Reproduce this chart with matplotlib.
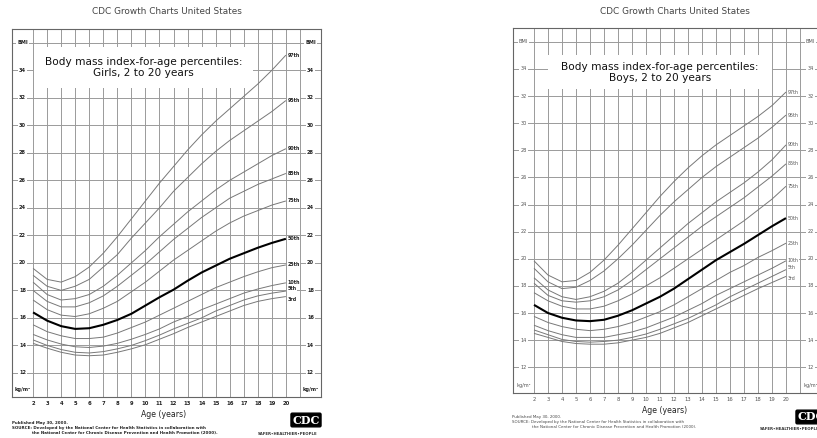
import matplotlib
matplotlib.use('Agg')
import matplotlib.pyplot as plt
from matplotlib.patches import Rectangle

# --- Data ---
AGES = list(range(2, 21))
PCT_NAMES = ['97th', '95th', '90th', '85th', '75th', '50th', '25th', '10th', '5th', '3rd']

GIRLS_P97 = [19.6, 18.8, 18.6, 19.0, 19.7, 20.7, 21.9, 23.2, 24.5, 25.8, 27.0, 28.2, 29.3, 30.3, 31.2, 32.1, 33.0, 34.0, 35.1]
GIRLS_P95 = [19.1, 18.3, 18.0, 18.3, 18.8, 19.7, 20.6, 21.8, 22.9, 24.0, 25.2, 26.2, 27.2, 28.1, 28.9, 29.6, 30.3, 31.0, 31.8]
GIRLS_P90 = [18.6, 17.7, 17.3, 17.4, 17.7, 18.3, 19.1, 20.0, 20.9, 21.9, 22.8, 23.7, 24.5, 25.3, 26.0, 26.6, 27.2, 27.8, 28.3]
GIRLS_P85 = [18.0, 17.2, 16.8, 16.8, 17.1, 17.6, 18.3, 19.1, 19.9, 20.8, 21.7, 22.5, 23.3, 24.0, 24.7, 25.2, 25.7, 26.1, 26.5]
GIRLS_P75 = [17.3, 16.6, 16.2, 16.1, 16.3, 16.7, 17.2, 17.9, 18.6, 19.4, 20.2, 20.9, 21.6, 22.3, 22.9, 23.4, 23.8, 24.2, 24.5]
GIRLS_P50 = [16.4, 15.8, 15.4, 15.2, 15.25, 15.5, 15.85, 16.3, 16.9, 17.5, 18.05, 18.7, 19.3, 19.8, 20.3, 20.7, 21.1, 21.45, 21.75]
GIRLS_P25 = [15.5, 15.0, 14.7, 14.5, 14.5, 14.6, 14.9, 15.3, 15.7, 16.2, 16.7, 17.2, 17.7, 18.2, 18.6, 19.0, 19.35, 19.65, 19.85]
GIRLS_P10 = [14.8, 14.4, 14.1, 13.9, 13.85, 13.95, 14.15, 14.45, 14.8, 15.2, 15.7, 16.1, 16.6, 17.0, 17.4, 17.8, 18.1, 18.35, 18.55]
GIRLS_P5 = [14.4, 14.0, 13.7, 13.5, 13.45, 13.55, 13.75, 14.0, 14.35, 14.75, 15.2, 15.6, 16.0, 16.5, 16.9, 17.3, 17.6, 17.8, 17.95]
GIRLS_P3 = [14.15, 13.8, 13.5, 13.3, 13.25, 13.3, 13.5, 13.75, 14.05, 14.45, 14.85, 15.3, 15.7, 16.1, 16.5, 16.9, 17.2, 17.4, 17.55]

BOYS_P97 = [19.85, 18.8, 18.3, 18.4, 19.0, 19.9, 21.0, 22.2, 23.4, 24.6, 25.7, 26.7, 27.6, 28.4, 29.1, 29.8, 30.5, 31.3, 32.3]
BOYS_P95 = [19.3, 18.3, 17.8, 17.9, 18.4, 19.1, 20.0, 21.0, 22.1, 23.2, 24.2, 25.1, 26.0, 26.8, 27.5, 28.2, 28.9, 29.7, 30.6]
BOYS_P90 = [18.6, 17.7, 17.2, 17.0, 17.2, 17.6, 18.2, 19.0, 19.9, 20.8, 21.7, 22.6, 23.4, 24.2, 24.9, 25.6, 26.4, 27.3, 28.4]
BOYS_P85 = [18.2, 17.3, 16.9, 16.8, 16.9, 17.2, 17.7, 18.4, 19.2, 20.0, 20.8, 21.6, 22.4, 23.1, 23.8, 24.5, 25.3, 26.1, 27.0]
BOYS_P75 = [17.5, 16.9, 16.5, 16.3, 16.3, 16.5, 16.9, 17.4, 18.0, 18.6, 19.3, 20.0, 20.7, 21.4, 22.1, 22.8, 23.6, 24.4, 25.35]
BOYS_P50 = [16.6, 16.0, 15.65, 15.45, 15.4, 15.5, 15.8, 16.2, 16.7, 17.2, 17.8, 18.5, 19.2, 19.9, 20.5, 21.1, 21.75, 22.4, 23.0]
BOYS_P25 = [15.75, 15.3, 15.0, 14.8, 14.7, 14.8, 15.0, 15.3, 15.7, 16.1, 16.6, 17.2, 17.8, 18.4, 19.0, 19.5, 20.1, 20.6, 21.15]
BOYS_P10 = [15.1, 14.7, 14.4, 14.2, 14.2, 14.2, 14.4, 14.6, 14.9, 15.3, 15.7, 16.2, 16.7, 17.3, 17.8, 18.3, 18.8, 19.3, 19.85]
BOYS_P5 = [14.75, 14.4, 14.05, 13.9, 13.85, 13.9, 14.0, 14.2, 14.45, 14.8, 15.2, 15.6, 16.1, 16.6, 17.2, 17.7, 18.2, 18.7, 19.2]
BOYS_P3 = [14.5, 14.2, 13.9, 13.75, 13.7, 13.7, 13.8, 14.0, 14.2, 14.5, 14.9, 15.3, 15.8, 16.3, 16.8, 17.3, 17.8, 18.25, 18.7]

BMI_TICKS = list(range(12, 36, 2))

# --- Layout in pixels ---
FIG_W, FIG_H = 817, 438
GRID = '#9a9a9a'


def px_rect(left, top, right, bottom):
    return [left / FIG_W, 1 - bottom / FIG_H, (right - left) / FIG_W, (bottom - top) / FIG_H]


def draw_chart(fig, rect, ylim, curves, sex, box, label_nudge, bold):
    ax = fig.add_axes(rect)
    ax.set_xlim(0.5, 22.5)
    ax.set_ylim(*ylim)
    ax.set_xticks([])
    ax.set_yticks([])
    for s in ax.spines.values():
        s.set_color('#666666')
        s.set_linewidth(0.8)

    # grid: one line per year, one per 2 BMI units
    ax.vlines(range(2, 22), ylim[0], ylim[1], color=GRID, lw=0.7, zorder=1)
    tick_color = '#222222' if bold else '#555555'
    weight = 'bold' if bold else 'normal'
    for v in BMI_TICKS + [36]:
        ax.hlines(v, 0.5, 22.5, color=GRID, lw=0.7, zorder=1)
        lab = 'BMI' if v == 36 else str(v)
        for xl in (1.25, 21.75):
            ax.text(xl, v, lab, ha='center', va='center', fontsize=3.6, color=tick_color,
                    fontweight=weight, zorder=3,
                    bbox=dict(fc='white', ec='none', pad=0.8))
    for xl in (1.25, 21.75):
        ax.text(xl, ylim[0] + 0.55, 'kg/m²', ha='center', va='center', fontsize=3.6,
                color=tick_color, fontweight=weight, zorder=3)

    # title box
    x0, x1, y0, y1 = box
    ax.add_patch(Rectangle((x0, y0), x1 - x0, y1 - y0, fc='white', ec='none', zorder=2))
    ax.text((x0 + x1) / 2, (y0 + y1) / 2, 'Body mass index-for-age percentiles:\n%s, 2 to 20 years' % sex,
            ha='center', va='center', fontsize=7.6, color='#111111', linespacing=1.15, zorder=3)

    for name, vals in zip(PCT_NAMES, curves):
        median = name == '50th'
        ax.plot(AGES, vals, color='black' if median else '#787878', lw=1.5 if median else 0.7,
                zorder=4, solid_capstyle='butt')
        ax.text(20.12, vals[-1] + label_nudge.get(name, 0), name, ha='left', va='center',
                fontsize=3.4, color=tick_color, fontweight=weight, zorder=5,
                bbox=dict(fc='white', ec='none', pad=0.3))

    for a in AGES:
        ax.annotate(str(a), (a, ylim[0]), xytext=(0, -3), textcoords='offset points',
                    ha='center', va='top', fontsize=3.8, color=tick_color, fontweight=weight,
                    annotation_clip=False)
    ax.annotate('Age (years)', (11.3, ylim[0]), xytext=(0, -12.5), textcoords='offset points',
                ha='center', va='center', fontsize=5.6, color='#222222', annotation_clip=False)
    return ax


def footer(fig, x, y, bold):
    kw = dict(fontsize=2.9, color='#222222' if bold else '#444444',
              fontweight='bold' if bold else 'normal', va='center', ha='left')
    fig.text(x / FIG_W, 1 - y / FIG_H, 'Published May 30, 2000.', **kw)
    fig.text(x / FIG_W, 1 - (y + 5) / FIG_H,
             'SOURCE: Developed by the National Center for Health Statistics in collaboration with', **kw)
    fig.text((x + 20) / FIG_W, 1 - (y + 10) / FIG_H,
             'the National Center for Chronic Disease Prevention and Health Promotion (2000).', **kw)


def logo(fig, cx, cy, tag_x, tag_y):
    fig.text(cx / FIG_W, 1 - cy / FIG_H, 'CDC', ha='center', va='center', fontsize=8,
             family='DejaVu Serif', fontweight='bold', color='white',
             bbox=dict(boxstyle='round,pad=0.12', fc='black', ec='black'))
    fig.text(tag_x / FIG_W, 1 - tag_y / FIG_H, 'SAFER\u2022HEALTHIER\u2022PEOPLE', ha='center', va='center',
             fontsize=2.8, fontweight='bold', color='#333333')


if __name__ == "__main__":
    fig = plt.figure(figsize=(FIG_W / 100, FIG_H / 100), dpi=100)

    girls = [GIRLS_P97, GIRLS_P95, GIRLS_P90, GIRLS_P85, GIRLS_P75,
             GIRLS_P50, GIRLS_P25, GIRLS_P10, GIRLS_P5, GIRLS_P3]
    boys = [BOYS_P97, BOYS_P95, BOYS_P90, BOYS_P85, BOYS_P75,
            BOYS_P50, BOYS_P25, BOYS_P10, BOYS_P5, BOYS_P3]

    fig.text(167 / FIG_W, 1 - 11 / FIG_H, 'CDC Growth Charts United States', ha='center', va='center',
             fontsize=6.4, color='#444444')
    draw_chart(fig, px_rect(12, 29, 321, 397), (10.25, 37), girls, 'Girls',
               (2.05, 17.66, 32.7, 35.7), {'5th': 0.18, '3rd': -0.18}, bold=True)
    footer(fig, 12, 423, bold=True)
    logo(fig, 306, 420, 288, 434)

    fig.text(675 / FIG_W, 1 - 11 / FIG_H, 'CDC Growth Charts United States', ha='center', va='center',
             fontsize=6.4, color='#444444')
    draw_chart(fig, px_rect(513, 28.3, 821, 393), (10.1, 37), boys, 'Boys',
               (3.0, 19.0, 32.5, 35.0), {'5th': 0.12, '3rd': -0.12}, bold=False)
    footer(fig, 512, 417, bold=False)
    # the boys panel runs off the right edge in the reference, logo included
    logo(fig, 811, 417, 790, 429)

    fig.savefig('out.png', dpi=100)
